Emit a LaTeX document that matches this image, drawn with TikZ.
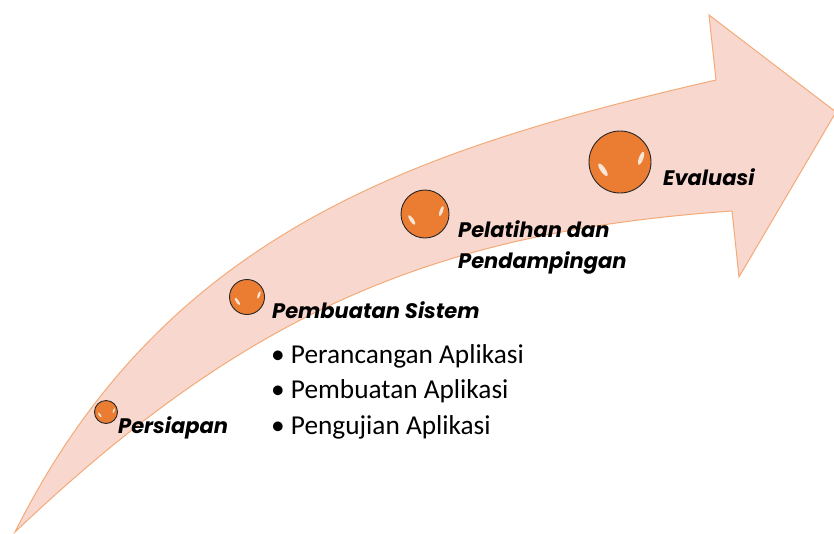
\documentclass[tikz,border=0pt]{standalone}
\usepackage{fontspec}
\setmainfont{Carlito}
\newfontfamily\titlefont{Poppins}
\definecolor{arrowfill}{RGB}{248,216,206}
\definecolor{arrowline}{RGB}{243,170,120}
\definecolor{ballorange}{RGB}{235,125,50}
\tikzset{
  ball/.style={circle, draw=black!85, line width=0.9pt, fill=ballorange, inner sep=0pt},
  title/.style={font=\titlefont\bfseries\itshape\fontsize{21}{24}\selectfont, anchor=base west, inner sep=0pt},
  item/.style={font=\fontsize{27.3}{30}\selectfont, anchor=base west, inner sep=0pt},
  glint/.style={fill=white, opacity=0.8},
}
\newcommand\ballat[4]{%
  \node[ball, minimum size=#4*2pt] (#1) at (#2,#3) {};
  \begin{scope}[shift={(#2,#3)}, x=#4pt, y=-#4pt]
    \fill[glint, rotate around={35:(-0.55,0.25)}] (-0.55,0.25) ellipse [x radius=0.08, y radius=0.24];
    \fill[glint, rotate around={-20:(0.68,-0.12)}] (0.68,-0.12) ellipse [x radius=0.07, y radius=0.22];
  \end{scope}}
\begin{document}
\begin{tikzpicture}[x=1pt,y=-1pt]
\useasboundingbox (0,0) rectangle (834,533);
\draw[fill=arrowfill, draw=arrowline, line width=1pt, line join=miter]
  (15,532) .. controls (165,232) and (416,149) .. (716,80)
  -- (709,15) -- (836,112) -- (739,277) -- (732,211)
  .. controls (432,232) and (245,313.5) .. (15,532) -- cycle;
\ballat{b1}{106}{412}{11.5}
\ballat{b2}{247}{297}{17.5}
\ballat{b3}{425}{214}{24}
\ballat{b4}{620}{162}{31}
\node[title] (t1) at (118,433) {Persiapan};
\node[title] (t2) at (272,318) {Pembuatan Sistem};
\node[title] (t3) at (458,237) {Pelatihan dan};
\node[title] (t3b) at (458,268) {Pendampingan};
\node[title] (t4) at (663,185) {Evaluasi};
\node[item] (i1) at (271,363) {\textbullet\ Perancangan Aplikasi};
\node[item] (i2) at (271,398) {\textbullet\ Pembuatan Aplikasi};
\node[item] (i3) at (271,434) {\textbullet\ Pengujian Aplikasi};
\end{tikzpicture}
\end{document}
